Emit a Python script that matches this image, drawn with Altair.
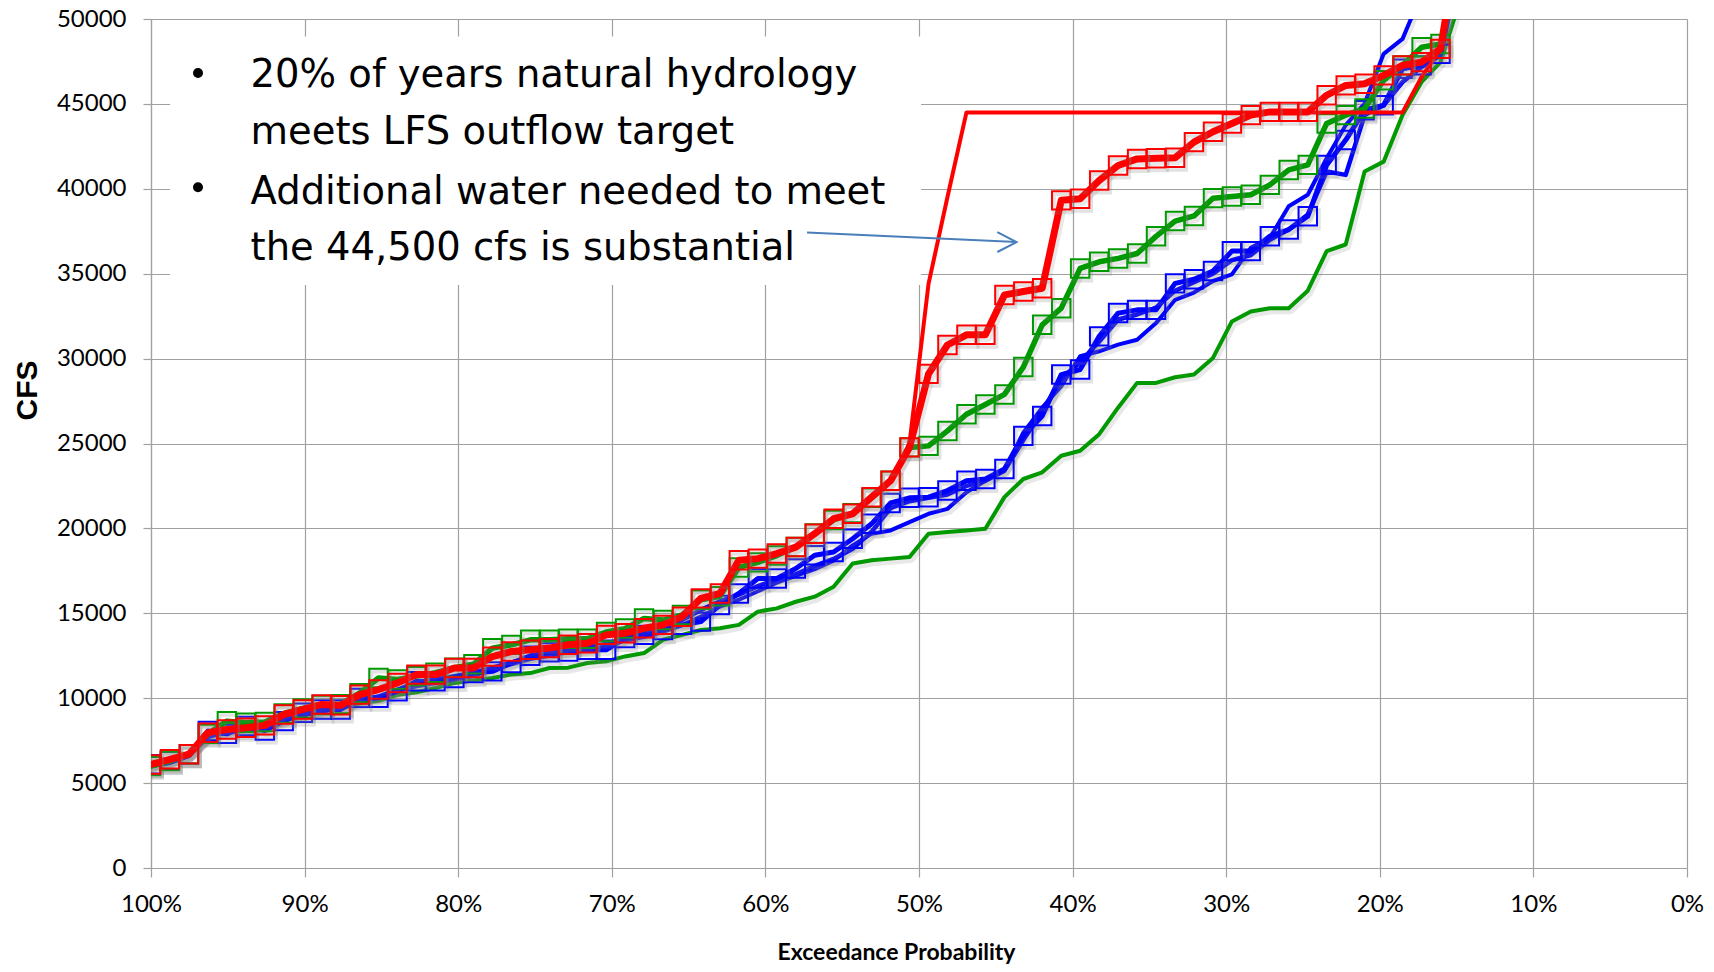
import altair as alt
import pandas as pd

# Exceedance probability (%) of each ranked year
EXCEED = [100.0, 98.77, 97.53, 96.30, 95.06, 93.83, 92.59, 91.36, 90.12, 88.89,
          87.65, 86.42, 85.19, 83.95, 82.72, 81.48, 80.25, 79.01, 77.78, 76.54,
          75.31, 74.07, 72.84, 71.60, 70.37, 69.14, 67.90, 66.67, 65.43, 64.20,
          62.96, 61.73, 60.49, 59.26, 58.02, 56.79, 55.56, 54.32, 53.09, 51.85,
          50.62, 49.38, 48.15, 46.91, 45.68, 44.44, 43.21, 41.98, 40.74, 39.51,
          38.27, 37.04, 35.80, 34.57, 33.33, 32.10, 30.86, 29.63, 28.40, 27.16,
          25.93, 24.69, 23.46, 22.22, 20.99, 19.75, 18.52, 17.28, 16.05, 14.81]

RED_MAIN = [6100, 6400, 6700, 7970, 8160, 8260, 8400, 9040, 9340, 9630,
            9580, 10210, 10510, 10900, 11390, 11390, 11780, 11780, 12450, 12750,
            12850, 12950, 13150, 13240, 13730, 13830, 14120, 14320, 14800, 15880,
            16170, 18120, 18220, 18520, 18900, 19690, 20570, 20860, 21840, 22810,
            24770, 29100, 30800, 31400, 31400, 33750, 33950, 34140, 39320, 39410,
            40490, 41370, 41760, 41800, 41830, 42750, 43360, 43850, 44340, 44530,
            44530, 44530, 45510, 46090, 46190, 46680, 47270, 47460, 48240, 55000]

RED_TARGET = [6100, 6400, 6700, 7970, 8160, 8260, 8400, 9040, 9340, 9630,
              9580, 10210, 10510, 10900, 11390, 11390, 11780, 11780, 12450, 12750,
              12850, 12950, 13150, 13240, 13730, 13830, 14120, 14320, 14800, 15880,
              16170, 18120, 18220, 18520, 18900, 19690, 20570, 20860, 21840, 22810,
              25000, 34400, 39500, 44500, 44500, 44500, 44500, 44500, 44500, 44500,
              44500, 44500, 44500, 44500, 44500, 44500, 44500, 44500, 44500, 44500,
              44500, 44500, 44500, 44500, 44500, 44500, 44500, 46580, 48240, 55000]

GREEN_MAIN = [6000, 6300, 6700, 7900, 8650, 8550, 8600, 9100, 9400, 9600,
              9650, 10300, 11190, 11100, 11300, 11500, 11800, 12000, 12950, 13140,
              13440, 13440, 13500, 13500, 13900, 14100, 14700, 14600, 14900, 15800,
              16000, 17700, 18000, 18400, 18900, 19700, 20500, 20900, 21800, 22810,
              24770, 24860, 25740, 26720, 27300, 27890, 29500, 31990, 32970, 35310,
              35700, 35900, 36190, 37200, 38100, 38400, 39450, 39550, 39650, 40230,
              41110, 41410, 43850, 44340, 44730, 46390, 47270, 48340, 48530, 53000]

GREEN_NATURAL = [6000, 6200, 6600, 7700, 8100, 8200, 8300, 8700, 9000, 9300,
                 9400, 9700, 9850, 10200, 10350, 10600, 10900, 11050, 11190, 11400,
                 11480, 11780, 11800, 12070, 12170, 12460, 12660, 13440, 13730, 14020,
                 14120, 14320, 15100, 15290, 15680, 15980, 16560, 17930, 18120, 18220,
                 18320, 19690, 19790, 19880, 19980, 21840, 22910, 23300, 24280, 24570,
                 25550, 27110, 28570, 28570, 28900, 29060, 30040, 32190, 32770, 32970,
                 32970, 34000, 36330, 36720, 41020, 41600, 44340, 46290, 47460, 51000]

BLUE_A = [6110, 6310, 6700, 8070, 7900, 8360, 8100, 8650, 9140, 9340,
          9340, 10020, 10020, 10410, 11000, 11000, 11190, 11480, 11580, 12070,
          12500, 12700, 12750, 12850, 12850, 13540, 13730, 14020, 14320, 14510,
          15490, 16170, 17050, 17050, 17640, 18420, 18610, 19390, 20270, 21500,
          21800, 21840, 22230, 22810, 22910, 23500, 25450, 26620, 29060, 29360,
          31310, 32680, 32870, 32870, 34430, 34670, 35160, 36330, 36330, 37210,
          37600, 38380, 41410, 42870, 44630, 44920, 47070, 47270, 47950, 54000]

BLUE_B = [6000, 6200, 6600, 7800, 8000, 8200, 8300, 8800, 9000, 9300,
          9400, 9900, 10100, 10500, 10900, 11100, 11300, 11500, 11800, 12100,
          12400, 12600, 12800, 13000, 13200, 13500, 13800, 14100, 14600, 15200,
          15700, 16100, 16600, 17000, 17300, 17800, 18200, 18800, 19800, 21200,
          21600, 21800, 22000, 22500, 22800, 23400, 25200, 26900, 28800, 29800,
          31000, 32300, 32600, 33000, 34000, 34500, 35000, 35800, 36100, 37000,
          37600, 38480, 41020, 40820, 44340, 44920, 46290, 47170, 47850, 53000]

BLUE_C = [6000, 6300, 6600, 7700, 8000, 8100, 8300, 8700, 9000, 9200,
          9400, 9800, 10000, 10400, 10700, 10900, 11100, 11300, 11700, 12000,
          12300, 12500, 12700, 12900, 13100, 13400, 13600, 13900, 14300, 14800,
          15400, 15800, 16300, 16800, 17200, 17600, 18100, 19000, 19690, 19880,
          20370, 20860, 21150, 22130, 22810, 23400, 25640, 27110, 28380, 30140,
          30430, 30820, 31110, 32090, 33460, 33890, 34570, 34960, 36520, 37110,
          38970, 39650, 41800, 43750, 45020, 47950, 48830, 51500]

# Axis ticks
X_TICKS = [0, 10, 20, 30, 40, 50, 60, 70, 80, 90, 100]
Y_TICKS = [0, 5000, 10000, 15000, 20000, 25000, 30000, 35000, 40000, 45000, 50000]

# Annotation (in data coordinates)
NOTE_LINES = ["20% of years natural hydrology", "meets LFS outflow target",
              "Additional water needed to meet", "the 44,500 cfs is substantial"]
NOTE_P = [93.52, 93.52, 93.52, 93.52]
NOTE_CFS = [45985, 42664, 39114, 35834]
BULLET_P = [96.94, 96.94]
BULLET_CFS = [46823, 40087]
BOX_P = [98.76, 49.87]
BOX_CFS = [48973, 34328]
ARROW_P = [57.29, 43.65]
ARROW_CFS = [37433, 36864]
HEAD_P = [44.90, 43.65, 44.90]
HEAD_CFS = [37450, 36864, 36278]

RED = "#FF0000"
GREEN = "#009900"
BLUE = "#0000FF"
ARROW_COLOR = "#4A7EBB"
SHADOW = "#7F7F7F"

X = alt.X("p:Q",
          scale=alt.Scale(domain=[0, 100], reverse=True, nice=False),
          axis=alt.Axis(values=X_TICKS, labelExpr="datum.value + '%'", tickSize=9,
                        labelPadding=15, labelFlush=False, labelOverlap=False,
                        title="Exceedance Probability", titleFont="Lato",
                        titleFontWeight="bold", titleFontSize=23, titleColor="#000000",
                        titleX=745, titleY=91, titleBaseline="alphabetic"))
Y = alt.Y("cfs:Q",
          scale=alt.Scale(domain=[0, 50000], nice=False),
          axis=alt.Axis(values=Y_TICKS, format="d", tickSize=8, labelPadding=17,
                        title="CFS", titleFont="Liberation Sans", titleFontWeight="bold",
                        titleFontSize=30, titleColor="#000000", titleAngle=270,
                        titleX=-114.6, titleY=371, titleAlign="center",
                        titleBaseline="alphabetic"))


def frame(vals):
    return pd.DataFrame({"p": EXCEED[:len(vals)], "cfs": vals})


def line_layer(vals, color, width):
    return alt.Chart(frame(vals)).mark_line(
        color=color, strokeWidth=width, clip=True, strokeJoin="round", strokeCap="round"
    ).encode(x=X, y=Y)


def line_shadow(vals, width):
    return alt.Chart(frame(vals)).mark_line(
        color=SHADOW, strokeWidth=width + 2, opacity=0.18, clip=True,
        strokeJoin="round", strokeCap="round", xOffset=2, yOffset=3
    ).encode(x=X, y=Y)


def square_layer(vals, color):
    return alt.Chart(frame(vals)).mark_point(
        shape="square", filled=False, size=340, strokeWidth=2, color=color,
        opacity=1, clip=True
    ).encode(x=X, y=Y)


def square_shadow(vals):
    return alt.Chart(frame(vals)).mark_point(
        shape="square", filled=False, size=340, strokeWidth=3.5, color=SHADOW,
        opacity=0.22, clip=True, xOffset=2, yOffset=3
    ).encode(x=X, y=Y)


box = alt.Chart(pd.DataFrame({"p": [BOX_P[0]], "p2": [BOX_P[1]],
                              "cfs": [BOX_CFS[0]], "cfs2": [BOX_CFS[1]]})).mark_rect(
    fill="white", strokeWidth=0
).encode(x=X, x2="p2:Q", y=Y, y2="cfs2:Q")

notes = alt.Chart(pd.DataFrame({"p": NOTE_P, "cfs": NOTE_CFS, "t": NOTE_LINES})).mark_text(
    align="left", baseline="alphabetic", font="DejaVu Sans", fontSize=38.5, color="#000000"
).encode(x=X, y=Y, text="t:N")

bullets = alt.Chart(pd.DataFrame({"p": BULLET_P, "cfs": BULLET_CFS})).mark_circle(
    size=100, color="#000000", opacity=1
).encode(x=X, y=Y)

shaft = alt.Chart(pd.DataFrame({"p": [ARROW_P[0]], "p2": [ARROW_P[1]],
                                "cfs": [ARROW_CFS[0]], "cfs2": [ARROW_CFS[1]]})).mark_rule(
    color=ARROW_COLOR, strokeWidth=2
).encode(x=X, x2="p2:Q", y=Y, y2="cfs2:Q")

head = alt.Chart(pd.DataFrame({"p": HEAD_P, "cfs": HEAD_CFS, "k": [0, 1, 2]})).mark_line(
    color=ARROW_COLOR, strokeWidth=2
).encode(x=X, y=Y, order="k:Q")

layers = [
    box,
    line_shadow(GREEN_NATURAL, 4),
    line_layer(GREEN_NATURAL, GREEN, 4),
    line_shadow(BLUE_C, 4),
    line_layer(BLUE_C, BLUE, 4),
    line_shadow(BLUE_B, 4.5),
    line_layer(BLUE_B, BLUE, 4.5),
    line_shadow(BLUE_A, 5),
    line_layer(BLUE_A, BLUE, 5),
    square_shadow(BLUE_A),
    square_layer(BLUE_A, BLUE),
    line_shadow(GREEN_MAIN, 5.5),
    line_layer(GREEN_MAIN, GREEN, 5.5),
    square_shadow(GREEN_MAIN),
    square_layer(GREEN_MAIN, GREEN),
    line_layer(RED_TARGET, RED, 4),
    line_shadow(RED_MAIN, 7),
    line_layer(RED_MAIN, RED, 7),
    square_shadow(RED_MAIN),
    square_layer(RED_MAIN, RED),
    notes,
    bullets,
    shaft,
    head,
]

chart = alt.layer(*layers).properties(
    width=1536, height=849,
    autosize=alt.AutoSizeParams(type="none"),
    padding={"left": 143, "top": 11, "right": 19, "bottom": 96},
).configure_axis(
    gridColor="#A0A0A0", gridWidth=1.2, domainColor="#A0A0A0", domainWidth=1.2,
    tickColor="#A0A0A0", tickWidth=1.2, labelFont="Lato", labelFontSize=24,
    labelColor="#000000"
).configure_view(strokeWidth=0)

chart.save("out.html", embed_options={"renderer": "svg", "actions": False})
